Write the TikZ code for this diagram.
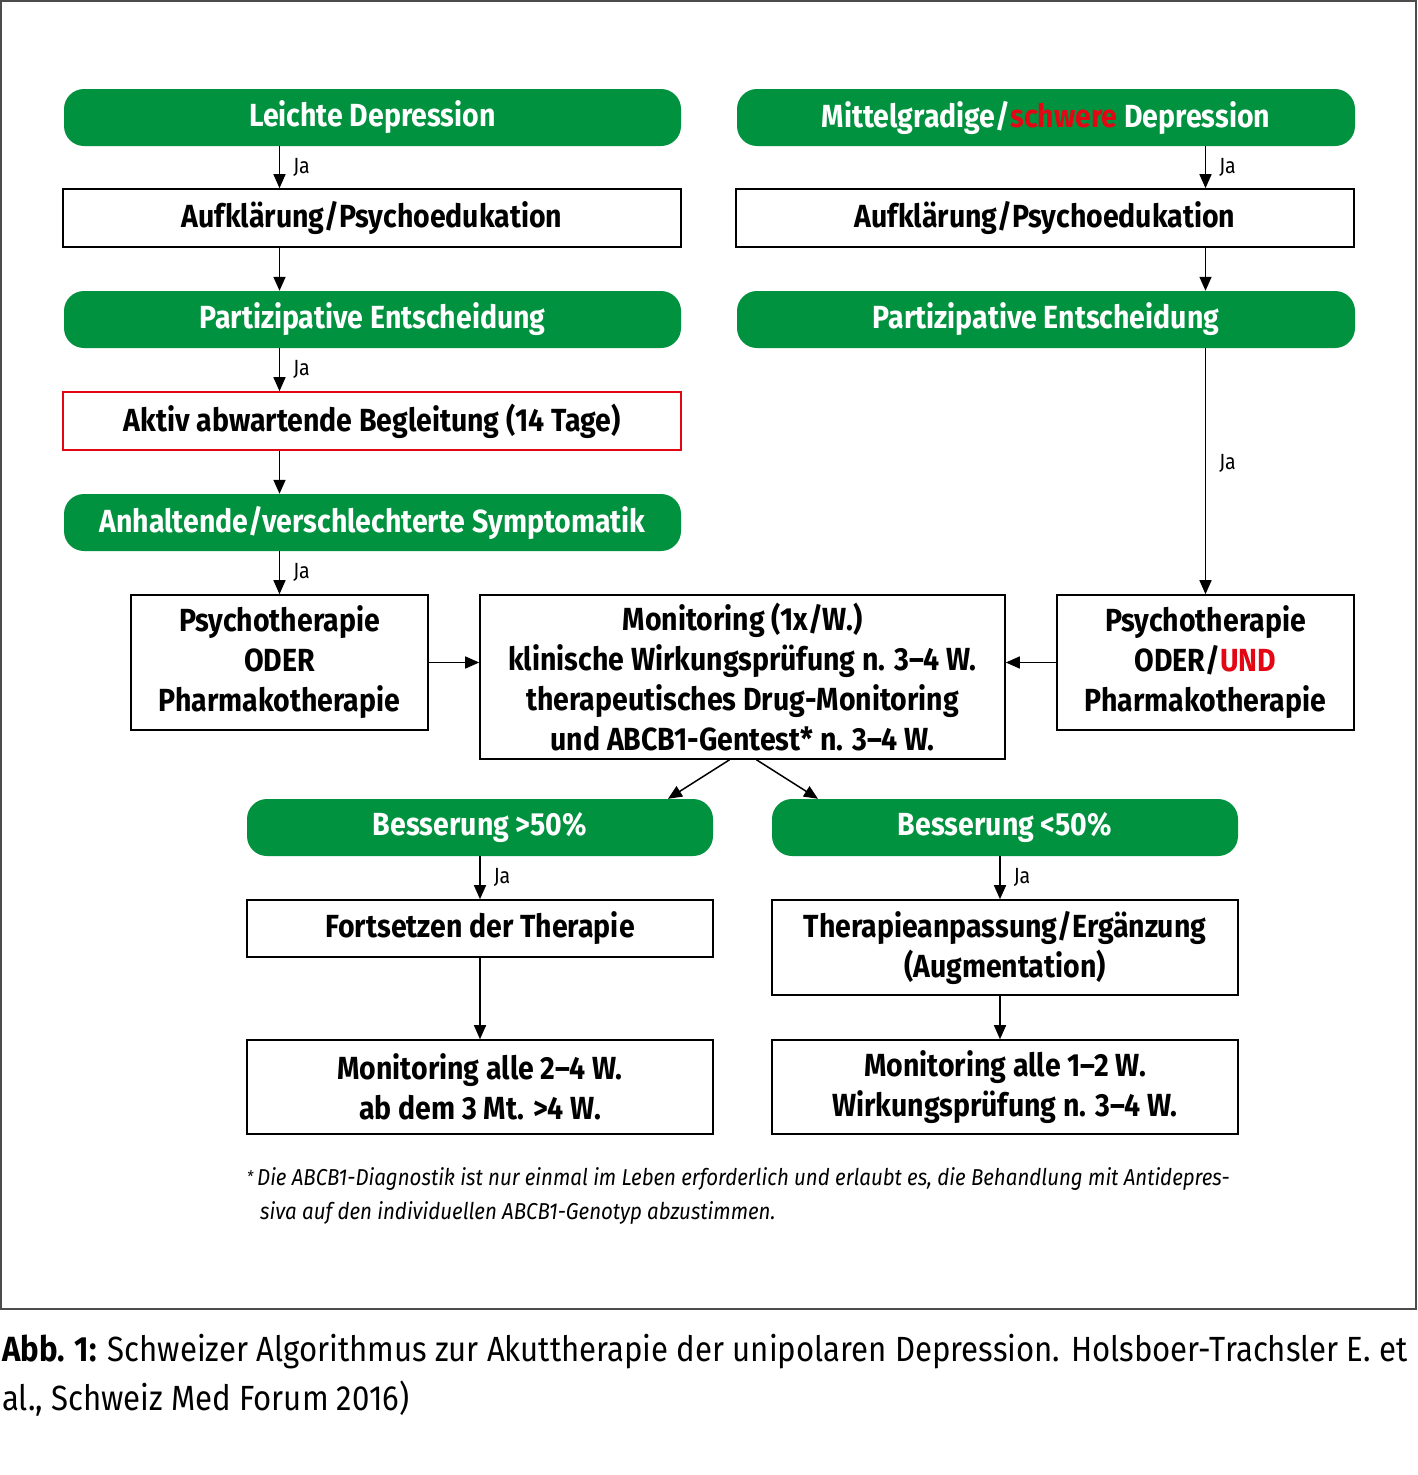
\documentclass[tikz,border=0pt]{standalone}
\usepackage{fontspec}
\setmainfont{Fira Sans}[FakeStretch=0.89]
\usetikzlibrary{arrows.meta,calc}
\definecolor{gr}{HTML}{00923F}
\definecolor{rd}{HTML}{E30613}
\begin{document}
\begin{tikzpicture}[x=1pt,y=-1pt,
  gbox/.style={fill=gr, rounded corners=20pt, text=white,
    font=\fontsize{32}{40}\selectfont\bfseries, minimum height=57pt,
    inner sep=0pt, align=center},
  wbox/.style={draw=black, line width=1.6pt, fill=white,
    font=\fontsize{32}{40}\selectfont\bfseries, inner sep=0pt, align=center},
  arr/.style={line width=1.5pt, -{Triangle[length=14pt,width=12pt]}},
  ja/.style={font=\fontsize{22}{24}\selectfont, right, inner sep=0pt, xshift=13pt}]
\useasboundingbox (0,0) rectangle (1417,1475);
\draw[line width=1.5pt, draw=black!70] (1,1) rectangle (1416,1309);

% left column
\node[gbox, minimum width=617pt] (L1) at (372.5,117.5) {Leichte Depression};
\node[wbox, minimum width=618pt, minimum height=58pt] (L2) at (372,218) {Aufklärung/Psychoedukation};
\node[gbox, minimum width=617pt] (L3) at (372.5,319.5) {Partizipative Entscheidung};
\node[wbox, draw=rd, minimum width=618pt, minimum height=58pt] (L4) at (372,421) {Aktiv abwartende Begleitung (14 Tage)};
\node[gbox, minimum width=617pt] (L5) at (372.5,522.5) {Anhaltende/verschlechterte Symptomatik};

% right column
\node[gbox, minimum width=618pt] (R1) at (1046,117.5) {Mittelgradige/\textcolor{rd}{schwere} Depression};
\node[wbox, minimum width=618pt, minimum height=58pt] (R2) at (1045,218) {Aufklärung/Psychoedukation};
\node[gbox, minimum width=618pt] (R3) at (1046,319.5) {Partizipative Entscheidung};

% middle row
\node[wbox, minimum width=297pt, minimum height=135pt] (PL) at (279.5,662.5) {Psychotherapie\\ODER\\Pharmakotherapie};
\node[wbox, minimum width=525pt, minimum height=164pt] (M) at (742.5,677) {Monitoring (1x/W.)\\klinische Wirkungsprüfung n. 3–4 W.\\therapeutisches Drug-Monitoring\\und ABCB1-Gentest* n. 3–4 W.};
\node[wbox, minimum width=297pt, minimum height=135pt] (PR) at (1205.5,662.5) {Psychotherapie\\ODER/\textcolor{rd}{UND}\\Pharmakotherapie};

% lower part
\node[gbox, minimum width=466pt] (B1) at (480,827.5) {Besserung >50\%};
\node[gbox, minimum width=466pt] (B2) at (1005,827.5) {Besserung <50\%};
\node[wbox, minimum width=466pt, minimum height=57pt] (F) at (480,928.5) {Fortsetzen der Therapie};
\node[wbox, minimum width=466pt, minimum height=95pt] (T) at (1005,947.5) {Therapieanpassung/Ergänzung\\(Augmentation)};
\node[wbox, minimum width=466pt, minimum height=94pt] (M1) at (480,1087) {Monitoring alle 2–4 W.\\ab dem 3 Mt. >4 W.};
\node[wbox, minimum width=466pt, minimum height=94pt] (M2) at (1005,1087) {Monitoring alle 1–2 W.\\Wirkungsprüfung n. 3–4 W.};

% connectors left
\draw[arr] (L1.south -| PL.north) -- node[ja]{Ja} (L2.north -| PL.north);
\draw[arr] (L2.south -| PL.north) -- (L3.north -| PL.north);
\draw[arr] (L3.south -| PL.north) -- node[ja]{Ja} (L4.north -| PL.north);
\draw[arr] (L4.south -| PL.north) -- (L5.north -| PL.north);
\draw[arr] (L5.south -| PL.north) -- node[ja]{Ja} (PL.north);
% connectors right
\draw[arr] (R1.south -| PR.north) -- node[ja]{Ja} (R2.north -| PR.north);
\draw[arr] (R2.south -| PR.north) -- (R3.north -| PR.north);
\draw[arr] (R3.south -| PR.north) -- node[ja, pos=0.47]{Ja} (PR.north);
% into monitoring
\draw[arr] (PL.east) -- (PL.east -| M.west);
\draw[arr] (PR.west) -- (PR.west -| M.east);
% out of monitoring
\draw[arr] ([xshift=-13pt]M.south) -- ([xshift=188pt]B1.north);
\draw[arr] ([xshift=14pt]M.south) -- ([xshift=-187pt]B2.north);
% lower connectors
\draw[arr] (B1.south) -- node[ja]{Ja} (F.north);
\draw[arr] ([xshift=-5pt]B2.south) -- node[ja]{Ja} ([xshift=-5pt]T.north);
\draw[arr] (F.south) -- (M1.north);
\draw[arr] ([xshift=-5pt]T.south) -- ([xshift=-5pt]M2.north);

% footnote
\node[anchor=base west, inner sep=0pt, font=\fontsize{23}{34}\selectfont\itshape] (fn1) at (247,1185)
  {\raisebox{3pt}{\fontsize{16}{16}\selectfont*}\,Die ABCB1-Diagnostik ist nur einmal im Leben erforderlich und erlaubt es, die Behandlung mit Antidepres-};
\node[anchor=base west, inner sep=0pt, font=\fontsize{23}{34}\selectfont\itshape] (fn2) at (260,1219)
  {siva auf den individuellen ABCB1-Genotyp abzustimmen.};

% caption
\node[anchor=base west, inner sep=0pt, font=\fontsize{35}{49}\selectfont] (cap1) at (2,1361)
  {\textbf{Abb. 1:} Schweizer Algorithmus zur Akuttherapie der unipolaren Depression. Holsboer-Trachsler E. et};
\node[anchor=base west, inner sep=0pt, font=\fontsize{35}{49}\selectfont] (cap2) at (2,1410)
  {al., Schweiz Med Forum 2016)};
\end{tikzpicture}
\end{document}
